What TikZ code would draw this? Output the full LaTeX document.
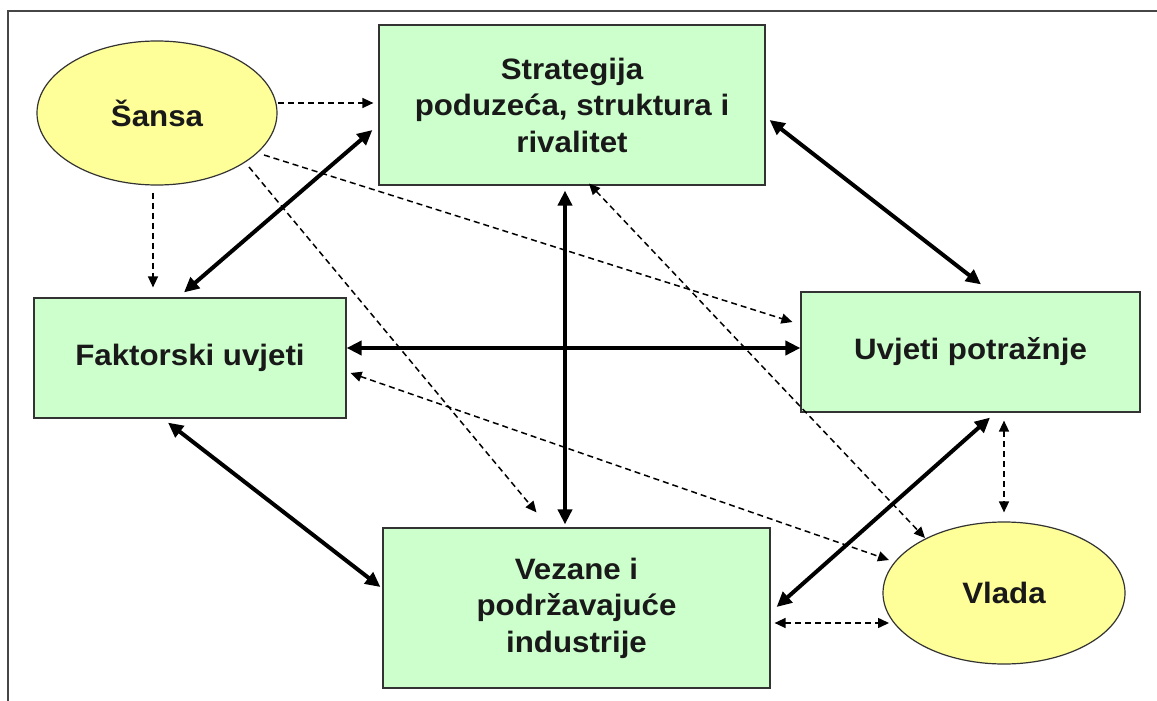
\documentclass[tikz,border=0pt]{standalone}
\usepackage{fontspec}
\setmainfont{Liberation Sans}[FakeStretch=1.06]
\usetikzlibrary{calc,arrows.meta,shapes.geometric}
\definecolor{boxgreen}{RGB}{204,255,204}
\definecolor{ellyellow}{RGB}{255,255,153}
\definecolor{framegray}{RGB}{70,70,70}
\begin{document}
\begin{tikzpicture}[x=1pt,y=-1pt,
  every node/.style={font=\fontsize{29.5}{36.5}\selectfont\bfseries, text=black!90, align=center},
  greenbox/.style={draw=black!80, line width=1.2pt, fill=boxgreen, rectangle, inner sep=0pt},
  yellowell/.style={draw=black!80, line width=1.2pt, fill=ellyellow, ellipse, inner sep=0pt},
  thickarrow/.style={line width=4pt, {Triangle[length=15pt,width=14pt]}-{Triangle[length=15pt,width=14pt]}},
  dasharrow/.style={line width=1.5pt, dash pattern=on 6pt off 4pt, -{Triangle[length=11pt,width=10pt]}},
  dasharrows/.style={line width=1.5pt, dash pattern=on 6pt off 4pt, {Triangle[length=11pt,width=10pt]}-{Triangle[length=11pt,width=10pt]}}
]
\useasboundingbox (0,0) rectangle (1157,701);
\fill[white] (0,0) rectangle (1157,701);
% frame (open to the right and bottom)
\draw[framegray, line width=1.5pt] (1157,11) -- (8,11) -- (8,701);

% nodes
\node[yellowell, minimum width=240pt, minimum height=144pt] (sansa) at (157,113) {Šansa};
\node[greenbox, minimum width=386pt, minimum height=160pt] (strat) at (572,105) {Strategija\\poduzeća, struktura i\\rivalitet};
\node[greenbox, minimum width=312pt, minimum height=120pt] (fakt) at (190,358) {Faktorski uvjeti};
\node[greenbox, minimum width=339pt, minimum height=120pt] (uvjeti) at (970.5,352) {Uvjeti potražnje};
\node[greenbox, minimum width=387pt, minimum height=160pt] (vezane) at (576.5,608) {Vezane i\\podržavajuće\\industrije};
\node[yellowell, minimum width=242pt, minimum height=142pt] (vlada) at (1004,593) {Vlada};

% dashed arrows from Sansa
\draw[dasharrow] ($(sansa)+(121,-10)$) -- ($(strat.west)+(-5,-2)$);
\draw[dasharrow] ($(sansa.south)+(-4,7)$) -- ($(fakt.north)+(-37,-10)$);
\draw[dasharrow] ($(sansa)+(107,42)$) -- ($(uvjeti.west)+(-8,-30)$);
\draw[dasharrow] ($(sansa)+(92,54)$) -- ($(vezane.north)+(-40,-15)$);

% dashed arrows with Vlada
\draw[dasharrows] ($(strat.south)+(17,-2)$) -- ($(vlada)+(-79,-55)$);
\draw[dasharrows] ($(fakt.east)+(4,15)$) -- ($(vlada)+(-115,-33)$);
\draw[dasharrows] ($(uvjeti.south)+(33.5,8)$) -- ($(vlada.north)+(0,-9)$);
\draw[dasharrows] ($(vezane.east)+(4,15)$) -- ($(vlada)+(-115,30)$);

% thick arrows
\draw[thickarrow] ($(fakt.north)+(-6,-5)$) -- ($(strat.west)+(-6,25)$);
\draw[thickarrow] ($(strat.south)+(-7,5)$) -- ($(vezane.north)+(-11.5,-3)$);
\draw[thickarrow] ($(fakt.east)+(0,-10)$) -- ($(uvjeti.west)+(0,-4)$);
\draw[thickarrow] ($(strat.east)+(4,15)$) -- ($(uvjeti.north)+(10.5,-7)$);
\draw[thickarrow] ($(fakt.south)+(-22,4)$) -- ($(vezane.west)+(-2,-21)$);
\draw[thickarrow] ($(vezane.east)+(6,-1)$) -- ($(uvjeti.south)+(19.5,5)$);
\end{tikzpicture}
\end{document}
